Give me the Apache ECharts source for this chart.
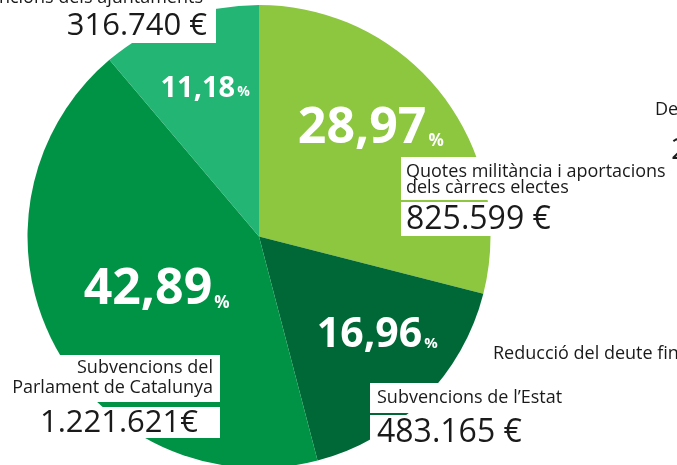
<!DOCTYPE html>
<html>
<head>
<meta charset="utf-8">
<script src="https://cdn.jsdelivr.net/npm/echarts@6/dist/echarts.min.js"></script>
<style>
  html, body { margin: 0; padding: 0; background: #fff; }
  #main { width: 677px; height: 465px; }
</style>
</head>
<body>
<div id="main"></div>
<script>
// dades del gràfic
const names = [
  'Quotes militància i aportacions\ndels càrrecs electes',
  'Subvencions de l’Estat',
  'Subvencions del\nParlament de Catalunya',
  'Subvencions dels ajuntaments'
]
const percents = [28.97, 16.96, 42.89, 11.18]
const amounts = ['825.599 €', '483.165 €', '1.221.621€', '316.740 €']
const colors = ['#8dc63f', '#006837', '#009245', '#22b573']

const myChart = echarts.init(document.getElementById('main'))

const fontName = '"Open Sans", sans-serif'

// mida i desplaçament de cada percentatge dins la porció
const pctStyle = [
  { size: 50, pct: 17, offset: [18, -35] },
  { size: 41, pct: 15, offset: [34, 15] },
  { size: 50, pct: 17, offset: [3, -1] },
  { size: 29, pct: 14, offset: [-13, -36] }
]

const pieData = percents.map((v, i) => ({
  value: v,
  name: names[i],
  itemStyle: { color: colors[i] },
  label: {
    offset: pctStyle[i].offset,
    rich: {
      v: { fontSize: pctStyle[i].size, fontWeight: 'bold', color: '#fff', fontFamily: fontName },
      p: { fontSize: pctStyle[i].pct, fontWeight: 'bold', color: '#fff', fontFamily: fontName, verticalAlign: 'bottom', padding: [0, 0, 4, 2] }
    }
  }
}))

// caixes blanques de les etiquetes (rectangles)
const boxes = [
  [-5, -10, 221, 53],
  [401, 157, 280, 43],
  [401, 202, 110, 34],
  [370, 383, 220, 30],
  [370, 415, 170, 60],
  [-5, 355, 225, 47],
  [-5, 407, 225, 31]
]

const nameLines = names.map(n => n.split('\n'))

const texts = [
  // ajuntaments
  { x: 203, y: -2, t: nameLines[3][0], size: 18, align: 'right' },
  { x: 207, y: 26, t: amounts[3], size: 31, align: 'right' },
  // quotes
  { x: 406, y: 172, t: nameLines[0][0], size: 18, align: 'left' },
  { x: 406, y: 188, t: nameLines[0][1], size: 18, align: 'left' },
  { x: 406, y: 220, t: amounts[0], size: 32, align: 'left' },
  // estat
  { x: 377, y: 398, t: nameLines[1][0], size: 18, align: 'left' },
  { x: 377, y: 433, t: amounts[1], size: 32, align: 'left' },
  // parlament
  { x: 213, y: 368, t: nameLines[2][0], size: 18, align: 'right' },
  { x: 213, y: 388, t: nameLines[2][1], size: 18, align: 'right' },
  { x: 198, y: 423, t: amounts[2], size: 31, align: 'right' },
  // textos veïns tallats
  { x: 493, y: 354, t: 'Reducció del deute financer', size: 18, align: 'left' },
  { x: 655, y: 110, t: 'De', size: 18, align: 'left' },
  { x: 671, y: 150, t: '2', size: 30, align: 'left' }
]

const graphic = boxes.map(b => ({
  type: 'rect',
  z: 100,
  shape: { x: b[0], y: b[1], width: b[2], height: b[3] },
  style: { fill: '#fff' }
})).concat(texts.map(t => ({
  type: 'text',
  z: 101,
  style: {
    x: t.x,
    y: t.y,
    text: t.t,
    fill: '#1a1a1a',
    font: t.size + 'px ' + fontName,
    textAlign: t.align,
    textVerticalAlign: 'middle'
  }
})))

const option = {
  backgroundColor: '#fff',
  animation: false,
  series: [
    {
      type: 'pie',
      center: [259, 236.5],
      radius: [0, 231.5],
      startAngle: 90,
      clockwise: true,
      silent: true,
      label: {
        show: true,
        position: 'inside',
        formatter: p => '{v|' + String(p.value).replace('.', ',') + '}{p|%}'
      },
      labelLine: { show: false },
      data: pieData
    }
  ],
  graphic: graphic
}

myChart.setOption(option)
</script>
</body>
</html>
